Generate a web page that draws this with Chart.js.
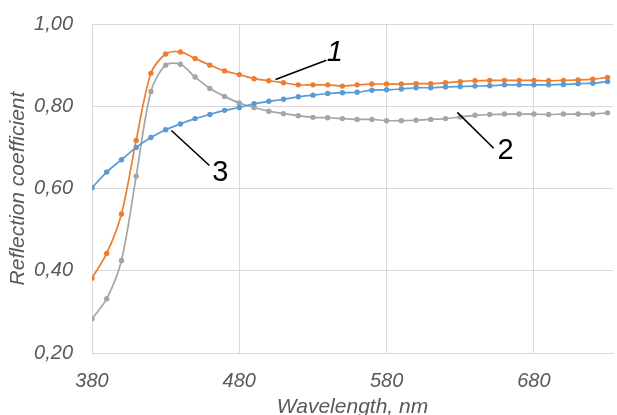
<!DOCTYPE html>
<html>
<head>
<meta charset="utf-8">
<script src="https://cdn.jsdelivr.net/npm/chart.js@4"></script>
<style>
  html, body { margin: 0; padding: 0; background: #fff; }
  #wrap { width: 617px; height: 415px; }
</style>
</head>
<body>
<div id="wrap"><canvas id="chart" width="617" height="415"></canvas></div>
<script>
// wavelength, nm
const wavelengths = [
  380, 390, 400, 410, 420, 430, 440, 450, 460, 470, 480, 490,
  500, 510, 520, 530, 540, 550, 560, 570, 580, 590, 600, 610,
  620, 630, 640, 650, 660, 670, 680, 690, 700, 710, 720, 730,
];

// curve 1 (orange)
const series1 = [
  0.382, 0.442, 0.538, 0.717, 0.880, 0.927, 0.932, 0.916, 0.900, 0.886, 0.877, 0.867,
  0.862, 0.857, 0.852, 0.852, 0.852, 0.849, 0.852, 0.854, 0.854, 0.854, 0.855, 0.855,
  0.857, 0.860, 0.862, 0.863, 0.863, 0.863, 0.863, 0.862, 0.863, 0.864, 0.866, 0.870,
];

// curve 2 (gray)
const series2 = [
  0.283, 0.332, 0.425, 0.630, 0.836, 0.900, 0.902, 0.871, 0.843, 0.824, 0.808, 0.797,
  0.788, 0.782, 0.777, 0.773, 0.772, 0.770, 0.768, 0.768, 0.765, 0.765, 0.766, 0.768,
  0.770, 0.774, 0.778, 0.780, 0.781, 0.781, 0.781, 0.780, 0.781, 0.781, 0.781, 0.784,
];

// curve 3 (blue)
const series3 = [
  0.602, 0.640, 0.670, 0.700, 0.724, 0.743, 0.757, 0.770, 0.780, 0.790, 0.797, 0.806,
  0.812, 0.817, 0.823, 0.827, 0.831, 0.833, 0.834, 0.839, 0.840, 0.842, 0.845, 0.845,
  0.847, 0.848, 0.849, 0.850, 0.852, 0.852, 0.852, 0.852, 0.853, 0.855, 0.856, 0.860,
];

const xTicks = [380, 480, 580, 680];
const yTicks = [0.2, 0.4, 0.6, 0.8, 1.0];

// curve labels: text, leader start (x, y), leader end (x, y), label (x, y) in data units
const curveLabels = [
  { text: "1", italic: true, from: [504.6, 0.865], to: [539.1, 0.912], at: [544.9, 0.929] },
  { text: "2", italic: false, from: [628, 0.785], to: [652.7, 0.698], at: [660.7, 0.690] },
  { text: "3", italic: false, from: [433.9, 0.741], to: [459.7, 0.656], at: [467.1, 0.638] },
];

const toPoints = (ys) => wavelengths.map((x, i) => ({ x: x, y: ys[i] }));

const FONT = "'Liberation Sans', Arial, sans-serif";
const TEXT_GRAY = "#595959";
const GRID = "#d9d9d9";

const labelPlugin = {
  id: "curveLabels",
  afterDatasetsDraw(chart) {
    const { ctx, scales } = chart;
    const x = scales.x, y = scales.y;
    ctx.save();
    ctx.strokeStyle = "#000";
    ctx.lineWidth = 1.6;
    ctx.fillStyle = "#000";
    ctx.textAlign = "center";
    ctx.textBaseline = "middle";
    curveLabels.forEach((lbl) => {
      ctx.beginPath();
      ctx.moveTo(x.getPixelForValue(lbl.from[0]), y.getPixelForValue(lbl.from[1]));
      ctx.lineTo(x.getPixelForValue(lbl.to[0]), y.getPixelForValue(lbl.to[1]));
      ctx.stroke();
      ctx.font = (lbl.italic ? "italic " : "") + "29px " + FONT;
      ctx.fillText(lbl.text, x.getPixelForValue(lbl.at[0]), y.getPixelForValue(lbl.at[1]));
    });
    ctx.restore();
  },
};

const dataset = (label, ys, color, order) => ({
  label: label,
  data: toPoints(ys),
  borderColor: color,
  backgroundColor: color,
  borderWidth: 1.7,
  pointRadius: 2.7,
  pointBorderWidth: 0,
  pointBackgroundColor: color,
  tension: 0.3,
  order: order,
});

new Chart(document.getElementById("chart"), {
  type: "line",
  data: {
    datasets: [
      dataset("1", series1, "#ED7D31", 2),
      dataset("2", series2, "#A5A5A5", 3),
      dataset("3", series3, "#5B9BD5", 1),
    ],
  },
  options: {
    responsive: false,
    animation: false,
    devicePixelRatio: 1,
    layout: { padding: { top: 24, right: 0, left: 0, bottom: 0 } },
    plugins: { legend: { display: false }, tooltip: { enabled: false } },
    scales: {
      x: {
        type: "linear",
        min: 380,
        max: 733.7,
        afterBuildTicks: (scale) => {
          scale.ticks = xTicks.map((v) => ({ value: v }));
        },
        afterFit: (scale) => {
          scale.height = 62;
        },
        grid: { color: GRID, lineWidth: 1, drawTicks: false },
        border: { color: GRID, width: 1 },
        ticks: {
          autoSkip: false,
          maxRotation: 0,
          padding: 16,
          color: TEXT_GRAY,
          font: { family: FONT, size: 20, style: "italic" },
        },
        title: {
          display: true,
          text: "Wavelength, nm",
          color: TEXT_GRAY,
          font: { family: FONT, size: 21, style: "italic", lineHeight: 1 },
          padding: { top: 0, bottom: -3 },
        },
      },
      y: {
        min: 0.2,
        max: 1.0,
        afterBuildTicks: (scale) => {
          scale.ticks = yTicks.map((v) => ({ value: v }));
        },
        afterFit: (scale) => {
          scale.width = 92;
          scale.paddingTop = 12;
          scale.paddingBottom = 12;
        },
        grid: { color: GRID, lineWidth: 1, drawTicks: false },
        border: { color: GRID, width: 1 },
        ticks: {
          padding: 19,
          color: TEXT_GRAY,
          font: { family: FONT, size: 20, style: "italic" },
          callback: (v) => Number(v).toFixed(2).replace(".", ","),
        },
        title: {
          display: true,
          text: "Reflection coefficient",
          color: TEXT_GRAY,
          font: { family: FONT, size: 21, style: "italic", lineHeight: 1 },
          padding: { top: 8, bottom: 0 },
        },
      },
    },
  },
  plugins: [labelPlugin],
});
</script>
</body>
</html>
